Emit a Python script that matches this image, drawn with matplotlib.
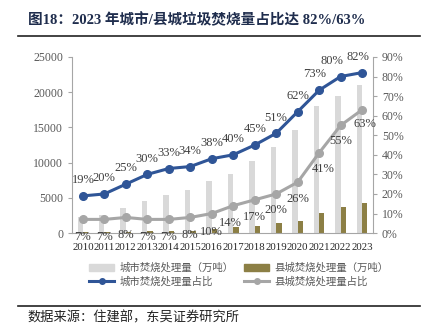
import numpy as np
import matplotlib.pyplot as plt
from matplotlib.lines import Line2D
from matplotlib.patches import Patch

plt.rcParams['font.family'] = ['Liberation Serif', 'Noto Sans CJK SC']

years = ['2010', '2011', '2012', '2013', '2014', '2015', '2016',
         '2017', '2018', '2019', '2020', '2021', '2022', '2023']
# incineration volume, 10k tonnes
city_vol = [2270, 2550, 3600, 4600, 5350, 6150, 7380,
            8430, 10200, 12170, 14630, 18040, 19500, 20980]
county_vol = [90, 110, 150, 290, 300, 350, 560,
              850, 1040, 1370, 1700, 2790, 3740, 4260]
# share of incineration, %
city_share = [19, 20, 25, 30, 33, 34, 38, 40, 45, 51, 62, 73, 80, 82]
county_share = [7, 7, 8, 7, 7, 8, 10, 14, 17, 20, 26, 41, 55, 63]

blue = '#2F5597'
grey_line = '#A6A6A6'
grey_bar = '#D9D9D9'
olive = '#8C7F45'
tick_col = '#595959'

fig = plt.figure(figsize=(4.32, 3.33), dpi=100)
ax = fig.add_axes([0.167, 0.300, 0.696, 0.529])
x = np.arange(len(years))
w = 0.25
ax.bar(x - w / 2, city_vol, w, color=grey_bar, zorder=1)
ax.bar(x + w / 2, county_vol, w, color=olive, zorder=1)
ax.set_xlim(-0.5, 13.5)
ax.set_ylim(0, 25000)
ax.set_yticks(range(0, 25001, 5000))
ax.set_xticks(x)
ax.set_xticklabels(years, fontsize=7.8, color='#262626')
ax.tick_params(axis='y', labelsize=8.5, labelcolor=tick_col, length=3, color='#A6A6A6')
ax.tick_params(axis='x', length=0, pad=7)
for s in ['top', 'right']:
    ax.spines[s].set_visible(False)
for s in ['left', 'bottom']:
    ax.spines[s].set_color('#A6A6A6')

ax2 = ax.twinx()
ax2.set_ylim(0, 90)
ax2.set_yticks(range(0, 91, 10))
ax2.set_yticklabels([f'{v}%' for v in range(0, 91, 10)])
ax2.tick_params(axis='y', labelsize=8.5, labelcolor=tick_col, length=3, color='#A6A6A6')
for s in ['top', 'left', 'bottom']:
    ax2.spines[s].set_visible(False)
ax2.spines['right'].set_color('#A6A6A6')

ax2.plot(x, city_share, color=blue, lw=2.2, marker='o', ms=5.5, zorder=3)
ax2.plot(x, county_share, color=grey_line, lw=2.2, marker='o', ms=5.5, zorder=3)

# value labels
city_off = [(0, 7)] * 11 + [(-3, 7), (-6, 7), (-3, 7)]
for i, v in enumerate(city_share):
    ax2.annotate(f'{v}%', (x[i], v), xytext=city_off[i], textcoords='offset points',
                 ha='center', va='bottom', fontsize=9, color='#404040')
county_off = [(0, -8)] * 6 + [(0, -9), (-2, -8), (0, -8), (0, -7), (0, -8),
                              (3, -7), (0, -7), (2, -6)]
for i, v in enumerate(county_share):
    ax2.annotate(f'{v}%', (x[i], v), xytext=county_off[i], textcoords='offset points',
                 ha='center', va='top', fontsize=9, color='#404040')

# legend: two rows, filled column by column
handles = [Patch(color=grey_bar),
           Line2D([], [], color=blue, lw=2.2, marker='o', ms=4),
           Patch(color=olive),
           Line2D([], [], color=grey_line, lw=2.2, marker='o', ms=4)]
labels = ['城市焚烧处理量（万吨）', '城市焚烧处理量占比',
          '县城焚烧处理量（万吨）', '县城焚烧处理量占比']
fig.legend(handles, labels, loc='upper left', bbox_to_anchor=(0.185, 0.24), ncol=2,
           frameon=False, labelcolor='#595959', handlelength=2.4,
           columnspacing=1.0, handletextpad=0.5, labelspacing=0.35,
           prop={'family': ['Noto Sans CJK SC'], 'size': 7.5})

fig.text(0.065, 0.94, '图18：2023 年城市/县城垃圾焚烧量占比达 82%/63%',
         fontsize=10.5, fontweight='bold', color='#1F2D4D', va='center',
         family=['Liberation Serif', 'Noto Sans CJK SC'])
fig.add_artist(Line2D([0.042, 0.972], [0.893, 0.893], color='#222222', lw=1.2))
fig.add_artist(Line2D([0.042, 0.972], [0.081, 0.081], color='#222222', lw=1.2))
fig.text(0.063, 0.045, '数据来源：住建部，东吴证券研究所', fontsize=9.5, color='#222222',
         va='center', family=['Noto Sans CJK SC'])

fig.savefig('out.png', dpi=100)
